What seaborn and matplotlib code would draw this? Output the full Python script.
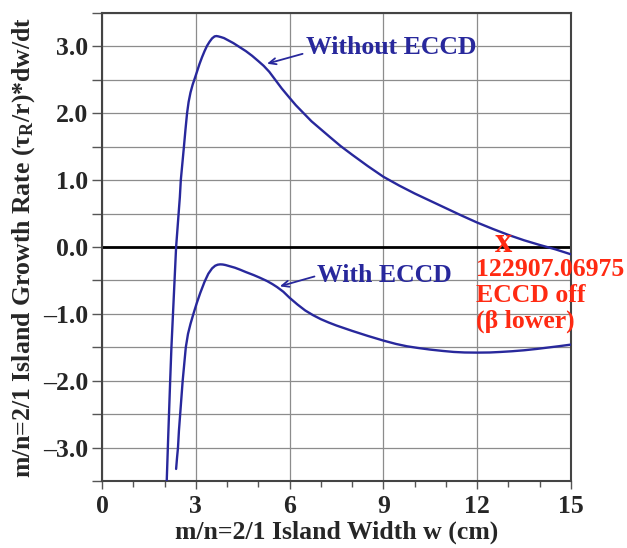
import numpy as np
import matplotlib
matplotlib.use('Agg')
import matplotlib.pyplot as plt
from matplotlib.ticker import MultipleLocator, FuncFormatter
import seaborn as sns

# island width w (cm) and growth rate
w_without = [2.07, 2.12, 2.18, 2.22, 2.27, 2.32, 2.37, 2.41, 2.45, 2.49, 2.52, 2.57,
             2.62, 2.67, 2.72, 2.77, 2.83, 2.9, 2.98, 3.05, 3.12, 3.2, 3.28, 3.36,
             3.44, 3.52, 3.6, 3.66, 3.72, 3.8, 3.9, 4.0, 4.2, 4.4, 4.6, 4.8, 5.0,
             5.17, 5.35, 5.51, 5.75, 6.0, 6.2, 6.45, 6.7, 7.0, 7.3, 7.63, 8.0, 8.5,
             9.0, 9.5, 10.0, 10.5, 11.0, 11.5, 12.0, 12.5, 13.0, 13.5, 14.0, 14.5, 15.0]
rate_without = [-3.5, -2.8, -2.0, -1.5, -1.0, -0.5, 0.0, 0.25, 0.5, 0.75, 1.0, 1.25,
                1.5, 1.76, 2.0, 2.17, 2.31, 2.43, 2.54, 2.64, 2.74, 2.84, 2.93, 3.01,
                3.07, 3.12, 3.15, 3.155, 3.15, 3.14, 3.125, 3.1, 3.05, 2.99, 2.93, 2.86, 2.78,
                2.71, 2.62, 2.52, 2.37, 2.23, 2.12, 2.0, 1.88, 1.76, 1.64, 1.51, 1.38, 1.21,
                1.05, 0.92, 0.8, 0.69, 0.58, 0.47, 0.365, 0.27, 0.18, 0.1, 0.03, -0.035, -0.11]

w_with = [2.37, 2.4, 2.43, 2.46, 2.5, 2.54, 2.58, 2.63, 2.68, 2.75, 2.83, 2.93, 3.03,
          3.14, 3.28, 3.4, 3.52, 3.62, 3.7, 3.78, 3.86, 3.95, 4.1, 4.25, 4.42, 4.6,
          4.85, 5.05, 5.28, 5.45, 5.6, 5.8, 6.0, 6.25, 6.5, 6.75, 7.0, 7.25, 7.5,
          7.75, 8.0, 8.5, 9.0, 9.4, 9.75, 10.1, 10.5, 10.9, 11.25, 11.6, 12.0, 12.4,
          12.75, 13.1, 13.5, 13.9, 14.25, 14.6, 15.0]
rate_with = [-3.32, -3.15, -3.0, -2.75, -2.5, -2.25, -2.0, -1.75, -1.5, -1.3, -1.15, -0.99, -0.84,
             -0.69, -0.52, -0.4, -0.32, -0.28, -0.265, -0.26, -0.262, -0.27, -0.29, -0.31, -0.34,
             -0.375, -0.42, -0.46, -0.51, -0.555, -0.6, -0.67, -0.76, -0.86, -0.95, -1.02, -1.08,
             -1.13, -1.175, -1.215, -1.255, -1.33, -1.4, -1.45, -1.485, -1.51, -1.535, -1.555,
             -1.57, -1.578, -1.58, -1.578, -1.57, -1.56, -1.545, -1.525, -1.505, -1.485, -1.46]

shot_w, shot_rate = 12.85, -0.075
shot_lines = ['122907.06975', 'ECCD off', '(\u03b2 lower)']

BLUE = '#28289c'
RED = '#ff2a12'

sns.set_style('white')
plt.rcParams['font.family'] = ['Liberation Serif', 'DejaVu Serif']
plt.rcParams['font.weight'] = 'bold'
plt.rcParams['mathtext.fontset'] = 'custom'
plt.rcParams['mathtext.rm'] = 'Liberation Serif:bold'
plt.rcParams['mathtext.it'] = 'Liberation Serif:bold'
plt.rcParams['mathtext.bf'] = 'Liberation Serif:bold'

fig = plt.figure(figsize=(6.27, 5.48), dpi=100)
ax = fig.add_axes([0.1627, 0.1223, 0.748, 0.854])

ax.axhline(0, color='black', lw=2, zorder=2)
sns.lineplot(x=w_without, y=rate_without, color=BLUE, lw=1.7, ax=ax,
             estimator=None, sort=False, zorder=3)
sns.lineplot(x=w_with, y=rate_with, color=BLUE, lw=1.7, ax=ax,
             estimator=None, sort=False, zorder=3)

ax.set_xlim(0, 15)
ax.set_ylim(-3.5, 3.5)
ax.xaxis.set_major_locator(MultipleLocator(3))
ax.xaxis.set_minor_locator(MultipleLocator(1))
ax.yaxis.set_major_locator(MultipleLocator(1))
ax.yaxis.set_minor_locator(MultipleLocator(0.5))
ax.yaxis.set_major_formatter(FuncFormatter(lambda v, p: f'{v:.1f}'.replace('-', '\u2013')))

ax.grid(True, which='major', axis='x', color='#8c8c8c', lw=0.9, zorder=0)
ax.grid(True, which='both', axis='y', color='#8c8c8c', lw=0.9, zorder=0)
ax.set_axisbelow(True)

for s in ax.spines.values():
    s.set_color('#444444')
    s.set_linewidth(1.5)

ax.tick_params(axis='both', which='both', direction='out', color='#555555',
               width=1, labelsize=18.5)
ax.tick_params(axis='x', which='major', length=6, pad=4)
ax.tick_params(axis='x', which='minor', length=4)
ax.tick_params(axis='y', which='both', length=7, pad=3)
ax.tick_params(left=True, bottom=True, which='both')

ax.set_xlabel('m/n=2/1 Island Width w (cm)', fontsize=18.5, fontweight='bold', labelpad=2)
ax.set_ylabel('m/n=2/1 Island Growth Rate (\u03c4$_{\\mathrm{R}}$/r)*dw/dt',
              fontsize=18.5, fontweight='bold', labelpad=4)

# curve labels with arrows
ax.text(6.54, 2.99, 'Without ECCD', color=BLUE, fontsize=18.5, fontweight='bold',
        ha='left', va='center')
ax.annotate('', xy=(5.19, 2.73), xytext=(6.5, 2.90),
            arrowprops=dict(arrowstyle='->,head_length=0.5,head_width=0.22',
                            color=BLUE, lw=1.3))
ax.text(6.86, -0.42, 'With ECCD', color=BLUE, fontsize=18.5, fontweight='bold',
        ha='left', va='center')
ax.annotate('', xy=(5.6, -0.60), xytext=(6.88, -0.43),
            arrowprops=dict(arrowstyle='->,head_length=0.5,head_width=0.22',
                            color=BLUE, lw=1.3))

ax.text(shot_w, shot_rate, 'x', color=RED, fontsize=25, fontweight='bold',
        ha='center', va='baseline', zorder=4)
for i, line in enumerate(shot_lines):
    ax.text(11.95, -0.44 - 0.38 * i, line, color=RED, fontsize=18.5,
            fontweight='bold', ha='left', va='baseline', clip_on=False, zorder=4)

fig.savefig('out.png', dpi=100)
